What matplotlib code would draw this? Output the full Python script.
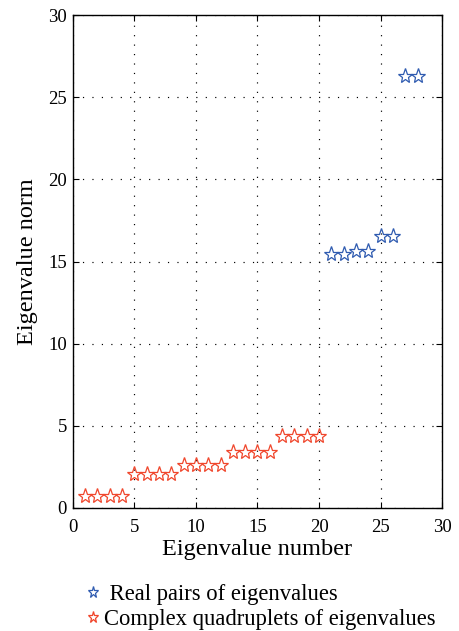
import matplotlib
matplotlib.use("Agg")
import matplotlib.pyplot as plt

# eigenvalue norms, sorted by index
real_idx = [21, 22, 23, 24, 25, 26, 27, 28]
real_norm = [15.45, 15.45, 15.67, 15.67, 16.56, 16.56, 26.3, 26.3]

complex_idx = list(range(1, 21))
complex_norm = [0.70] * 4 + [2.08] * 4 + [2.59] * 4 + [3.40] * 4 + [4.39] * 4

ticks = [0, 5, 10, 15, 20, 25, 30]

plt.rcParams["font.family"] = ["Liberation Serif", "DejaVu Serif"]
plt.rcParams["mathtext.fontset"] = "stix"

fig = plt.figure(figsize=(4.59, 6.31), dpi=100)
ax = fig.add_axes([0.158, 0.195, 0.806, 0.781])

ax.plot(real_idx, real_norm, linestyle="none", marker="*", markersize=11,
        markerfacecolor="none", markeredgecolor="#2f5bb0", markeredgewidth=0.9,
        label=" Real pairs of eigenvalues")
ax.plot(complex_idx, complex_norm, linestyle="none", marker="*", markersize=11,
        markerfacecolor="none", markeredgecolor="#f0462c", markeredgewidth=0.9,
        label="Complex quadruplets of eigenvalues")

ax.set_xlim(0, 30)
ax.set_ylim(0, 30)
ax.set_xticks(ticks)
ax.set_yticks(ticks)
ax.tick_params(direction="in", length=4, width=0.8, labelsize=13.5,
               top=True, right=True, pad=4)
ax.tick_params(axis="x", pad=8)
ax.grid(True, linestyle=(0, (1, 7)), color="black", linewidth=0.85)
for s in ax.spines.values():
    s.set_linewidth(1.0)

ax.set_xlabel("Eigenvalue number", fontsize=17.5, labelpad=2)
ax.set_ylabel("Eigenvalue norm", fontsize=17.5, labelpad=7)

fig.legend(loc="upper left", bbox_to_anchor=(0.161, 0.093), frameon=False,
           fontsize=16.3, handlelength=0.7, handletextpad=0.15,
           labelspacing=0.2, borderpad=0, markerscale=0.75)

fig.savefig("out.png", dpi=100)
